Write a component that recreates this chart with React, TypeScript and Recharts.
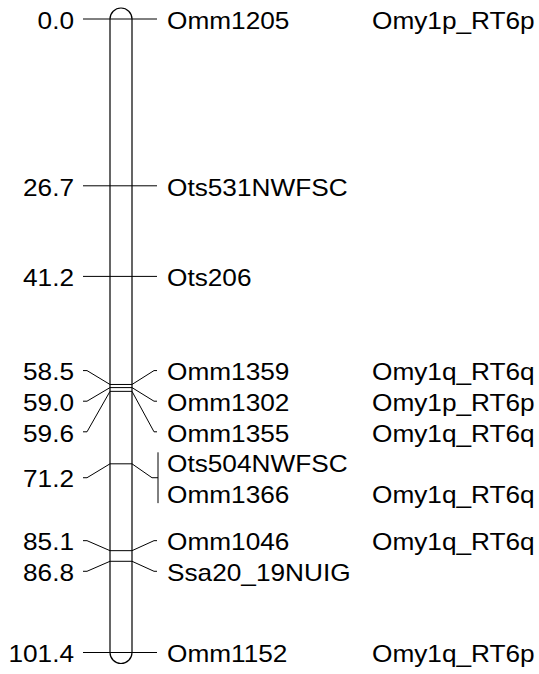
import React from 'react';
import { ComposedChart, XAxis, YAxis, Line, Scatter, ReferenceArea } from 'recharts';

// linkage group: marker names, map positions (cM) and chromosome arm
const markers = [
  'Omm1205', 'Ots531NWFSC', 'Ots206', 'Omm1359', 'Omm1302', 'Omm1355',
  'Ots504NWFSC', 'Omm1366', 'Omm1046', 'Ssa20_19NUIG', 'Omm1152',
];
const positions = [0.0, 26.7, 41.2, 58.5, 59.0, 59.6, 71.2, 71.2, 85.1, 86.8, 101.4];
const arms = [
  'Omy1p_RT6p', '', '', 'Omy1q_RT6q', 'Omy1p_RT6p', 'Omy1q_RT6q',
  '', 'Omy1q_RT6q', 'Omy1q_RT6q', '', 'Omy1q_RT6p',
];

const W = 539;
const H = 674;
const FONT = '"Liberation Sans", Arial, Helvetica, sans-serif';
const FS = 23;
const SX = 1.14; // the source text is a bit stretched horizontally

// x columns (x axis runs 0..W)
const COL = {
  pos: 74, leftEnd: 83, leftBend: 87, chrL: 110, chrR: 132,
  rightBend: 154, rightEnd: 157, bar: 158, name: 167, arm: 372,
};

const ROW = 4.9; // height of one label row, in cM

type Item = { pos: number; idx: number[] };

function buildItems(): Item[] {
  const items: Item[] = [];
  positions.forEach((p, i) => {
    const last = items[items.length - 1];
    if (last && last.pos === p) last.idx.push(i);
    else items.push({ pos: p, idx: [i] });
  });
  return items;
}

// spread labels: overlapping items are merged into blocks, each block is
// centred on the span of its loci
function spread(items: Item[]): number[] {
  const centres = new Array(items.length).fill(0);
  const blocks: number[][] = items.map((_, i) => [i]);
  const place = (b: number[]) => {
    const off = [0];
    for (let k = 1; k < b.length; k++) {
      off.push(off[k - 1] + ((items[b[k - 1]].idx.length + items[b[k]].idx.length) / 2) * ROW);
    }
    const base = (items[b[0]].pos + items[b[b.length - 1]].pos - off[off.length - 1]) / 2;
    b.forEach((it, k) => (centres[it] = base + off[k]));
  };
  let merged = true;
  while (merged) {
    merged = false;
    blocks.forEach(place);
    for (let k = 0; k + 1 < blocks.length; k++) {
      const a = blocks[k][blocks[k].length - 1];
      const b = blocks[k + 1][0];
      const need = ((items[a].idx.length + items[b].idx.length) / 2) * ROW;
      if (centres[b] - centres[a] < need - 1e-9) {
        blocks.splice(k, 2, [...blocks[k], ...blocks[k + 1]]);
        merged = true;
        break;
      }
    }
  }
  return centres;
}

const items = buildItems();
const centres = spread(items);

type Pt = { x: number; y: number };
type Lbl = { x: number; y: number; text: string; anchor: 'start' | 'end' };

const connectors: Pt[][] = [];
const bars: Pt[][] = [];
const labels: Lbl[] = [];

items.forEach((it, i) => {
  const c = centres[i];
  const multi = it.idx.length > 1;
  connectors.push([
    { x: COL.leftEnd, y: c },
    { x: COL.leftBend, y: c },
    { x: COL.chrL, y: it.pos },
    { x: COL.chrR, y: it.pos },
    { x: multi ? COL.rightBend - 2 : COL.rightBend, y: c },
    { x: multi ? COL.bar : COL.rightEnd, y: c },
  ]);
  labels.push({ x: COL.pos, y: c, text: it.pos.toFixed(1), anchor: 'end' });
  const n = it.idx.length;
  const ys = it.idx.map((_, j) => c + (j - (n - 1) / 2) * ROW);
  if (multi) {
    bars.push([
      { x: COL.bar, y: ys[0] - 0.33 * ROW },
      { x: COL.bar, y: ys[n - 1] + 0.33 * ROW },
    ]);
  }
  it.idx.forEach((m, j) => {
    labels.push({ x: COL.name, y: ys[j], text: markers[m], anchor: 'start' });
    if (arms[m]) labels.push({ x: COL.arm, y: ys[j], text: arms[m], anchor: 'start' });
  });
});

const Chromosome = (p: any) => {
  const w = p.width;
  return (
    <rect
      x={p.x}
      y={p.y - w / 2}
      width={w}
      height={p.height + w}
      rx={w / 2}
      ry={w / 2}
      fill="none"
      stroke="#000"
      strokeWidth={1.2}
    />
  );
};

const LabelText = (p: any) => {
  const d: Lbl = p.payload;
  return (
    <text
      x={0}
      y={0}
      transform={`translate(${p.cx},${p.cy + 9.7}) scale(${SX},1)`}
      textAnchor={d.anchor}
      fontFamily={FONT}
      fontSize={FS}
      fill="#000"
    >
      {d.text}
    </text>
  );
};

export default function App() {
  return (
    <div style={{ position: 'absolute', left: 0, top: 0, width: W, height: H, background: '#fff' }}>
      <ComposedChart width={W} height={H} margin={{ top: 19, right: 0, bottom: 21.5, left: 0 }}>
        <XAxis type="number" dataKey="x" domain={[0, W]} hide />
        <YAxis type="number" dataKey="y" domain={[0, 101.4]} reversed hide />
        <ReferenceArea
          x1={COL.chrL}
          x2={COL.chrR}
          y1={0}
          y2={101.4}
          shape={Chromosome}
          ifOverflow="visible"
        />
        {connectors.map((pts, i) => (
          <Line
            key={'c' + i}
            data={pts}
            dataKey="y"
            type="linear"
            stroke="#000"
            strokeWidth={1}
            dot={false}
            activeDot={false}
            isAnimationActive={false}
          />
        ))}
        {bars.map((pts, i) => (
          <Line
            key={'b' + i}
            data={pts}
            dataKey="y"
            type="linear"
            stroke="#000"
            strokeWidth={1}
            dot={false}
            activeDot={false}
            isAnimationActive={false}
          />
        ))}
        <Scatter data={labels} shape={LabelText} isAnimationActive={false} />
      </ComposedChart>
    </div>
  );
}
